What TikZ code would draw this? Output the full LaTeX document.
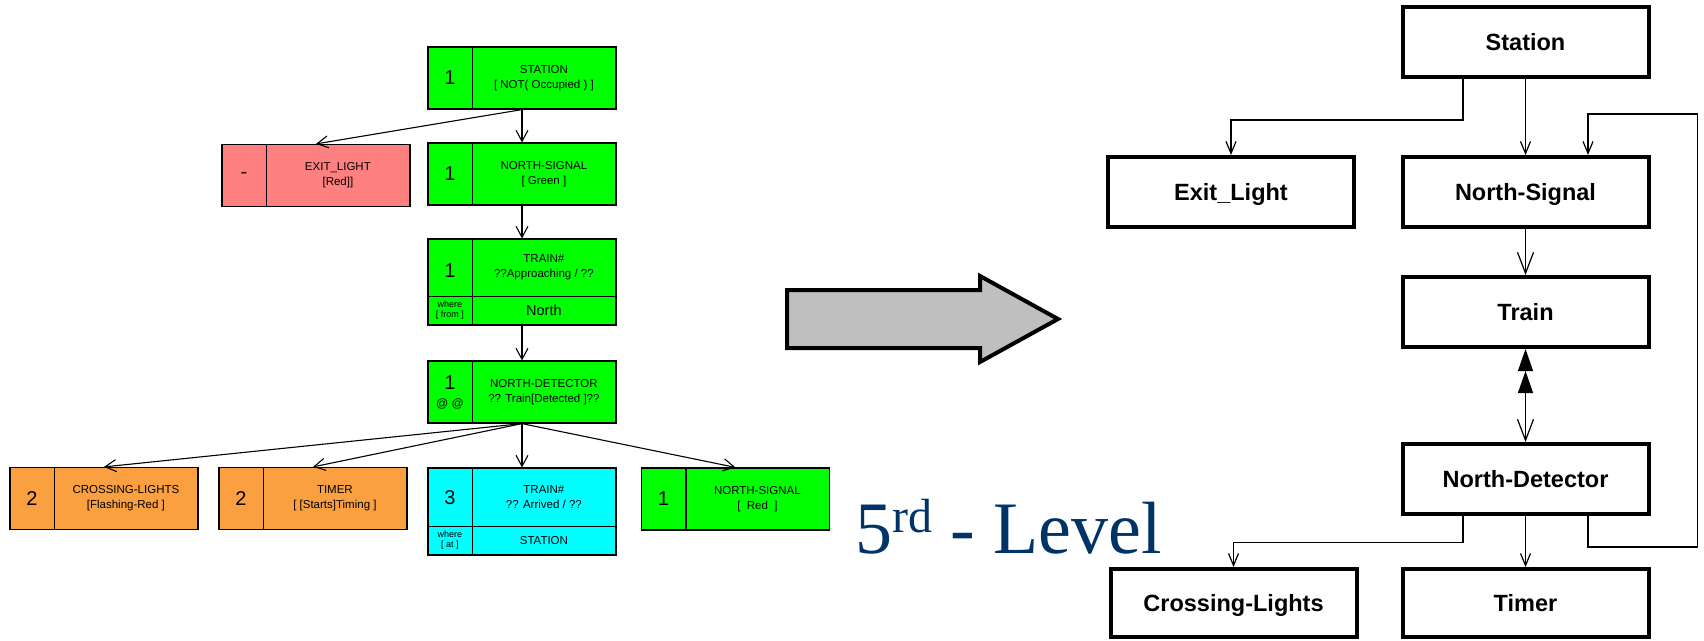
\documentclass[tikz,border=0pt]{standalone}
\usepackage{fontspec}
\setmainfont{Liberation Sans}
\newfontfamily\serifface{Liberation Serif}
\usetikzlibrary{arrows.meta,calc}

\definecolor{boxgreen}{RGB}{0,255,0}
\definecolor{boxpink}{RGB}{255,128,128}
\definecolor{boxorange}{RGB}{250,160,64}
\definecolor{boxcyan}{RGB}{0,255,255}
\definecolor{arrowgray}{RGB}{191,191,191}
\definecolor{levelblue}{RGB}{0,51,102}

\tikzset{
  lbox/.style={draw, line width=1.2pt, minimum width=188pt, minimum height=62pt, inner sep=0pt},
  lline/.style={line width=1.2pt},
  larr/.style={line width=1.1pt, -{Straight Barb[length=11pt,width=12pt,line width=1.1pt]}},
  numtext/.style={font=\fontsize{20}{22}\selectfont, inner sep=0pt},
  nametext/.style={font=\fontsize{11.5}{15}\selectfont, align=center, inner sep=0pt},
  tinytext/.style={font=\fontsize{9}{10.5}\selectfont, align=center, inner sep=0pt},
  rbox/.style={draw, line width=4pt, minimum width=246pt, minimum height=70pt, inner sep=0pt,
    text height=16.8pt, text depth=0pt, font=\bfseries\fontsize{23.5}{26}\selectfont},
  rarr/.style={line width=1.2pt, -{Straight Barb[length=12pt,width=10pt,line width=1.2pt]}},
  rarrbig/.style={line width=1.2pt, -{Straight Barb[length=21pt,width=16pt,line width=1.2pt]}},
}

% box with a number cell on the left and a two-line label on the right
\newcommand\flowbox[6]{%
  \node[lbox, fill=#4] (#1) at (#2,#3) {};
  \draw[lline] ([xshift=45pt]#1.north west) -- ([xshift=45pt]#1.south west);
  \node[numtext] (#1-n) at ([xshift=22.5pt]#1.west) {#5};
  \node[nametext] (#1-t) at ([xshift=116.5pt]#1.west) {#6};
}

\begin{document}
\begin{tikzpicture}[x=1pt, y=-1pt]
\useasboundingbox (0,0) rectangle (1704,640);

% ---------------- left: scenario tree ----------------
\flowbox{station}{522}{78}{boxgreen}{1}{STATION\\{}[ NOT( Occupied ) ]}
\flowbox{exitl}{316}{175.5}{boxpink}{-}{EXIT\_LIGHT\\{}[Red]]}
\flowbox{nsig}{522}{174}{boxgreen}{1}{NORTH-SIGNAL\\{}[ Green ]}

% train approaching from north
\node[lbox, fill=boxgreen, minimum height=86pt] (train) at (522,282) {};
\draw[lline] ([xshift=45pt]train.north west) -- ([xshift=45pt]train.south west);
\draw[lline] ([yshift=-58pt]train.north west) -- ([yshift=-58pt]train.north east);
\node[numtext] (train-n) at ([xshift=22.5pt,yshift=-32pt]train.north west) {1};
\node[nametext] (train-t) at ([xshift=116.5pt,yshift=-29pt]train.north west) {TRAIN\#\\??Approaching / ??};
\node[tinytext] (train-w) at ([xshift=22.5pt,yshift=-72pt]train.north west) {where\\{}[ from ]};
\node[font=\fontsize{14.5}{16}\selectfont, inner sep=0pt] (train-d) at ([xshift=116.5pt,yshift=-72pt]train.north west) {North};

% north detector
\node[lbox, fill=boxgreen] (ndet) at (522,392) {};
\draw[lline] ([xshift=45pt]ndet.north west) -- ([xshift=45pt]ndet.south west);
\node[numtext] (ndet-n) at ([xshift=22.5pt,yshift=-22pt]ndet.north west) {1};
\node[font=\fontsize{12}{13}\selectfont, inner sep=0pt] (ndet-a) at ([xshift=22.5pt,yshift=-44pt]ndet.north west) {@ @};
\node[nametext] (ndet-t) at ([xshift=116.5pt]ndet.west) {NORTH-DETECTOR\\?? Train[Detected ]??};

\flowbox{cross}{104}{498.5}{boxorange}{2}{CROSSING-LIGHTS\\{}[Flashing-Red ]}
\flowbox{timer}{313}{498.5}{boxorange}{2}{TIMER\\{}[ [Starts]Timing ]}
\flowbox{nsig2}{735.5}{499}{boxgreen}{1}{NORTH-SIGNAL\\{}[ \ Red \ ]}

% train arrived at station
\node[lbox, fill=boxcyan, minimum height=87pt] (arrived) at (522,511.5) {};
\draw[lline] ([xshift=45pt]arrived.north west) -- ([xshift=45pt]arrived.south west);
\draw[lline] ([yshift=-59pt]arrived.north west) -- ([yshift=-59pt]arrived.north east);
\node[numtext] (arrived-n) at ([xshift=22.5pt,yshift=-30pt]arrived.north west) {3};
\node[nametext] (arrived-t) at ([xshift=116.5pt,yshift=-30pt]arrived.north west) {TRAIN\#\\?? Arrived / ??};
\node[tinytext] (arrived-w) at ([xshift=22.5pt,yshift=-73pt]arrived.north west) {where\\{}[ at ]};
\node[nametext] (arrived-d) at ([xshift=116.5pt,yshift=-73pt]arrived.north west) {STATION};

% tree connectors
\draw[larr] (station.south) -- (exitl.north);
\draw[larr] (station.south) -- (nsig.north);
\draw[larr] (nsig.south) -- (train.north);
\draw[larr] (train.south) -- (ndet.north);
\draw[larr] (ndet.south) -- (cross.north);
\draw[larr] (ndet.south) -- (timer.north);
\draw[larr] (ndet.south) -- (arrived.north);
\draw[larr] (ndet.south) -- (nsig2.north);

% ---------------- middle: transformation arrow ----------------
\draw[line width=4pt, fill=arrowgray, miter limit=10]
  (787,290) -- (980,290) -- (980,276) -- (1058,319) -- (980,362) -- (980,348) -- (787,348) -- cycle;

\node[anchor=base west, inner sep=0pt, text=levelblue,
      font=\serifface\fontsize{74}{80}\selectfont] (level) at (855,553)
  {5\raisebox{21pt}{\fontsize{48}{50}\selectfont rd} - Level};

% ---------------- right: object hierarchy ----------------
\node[rbox] (rst) at (1525.5,42) {Station};
\node[rbox] (rel) at (1231,192) {Exit\_Light};
\node[rbox] (rns) at (1525.5,192) {North-Signal};
\node[rbox] (rtr) at (1525.5,312) {Train};
\node[rbox] (rnd) at (1525.5,479) {North-Detector};
\node[rbox, minimum height=68pt] (rcl) at (1233.5,603) {Crossing-Lights};
\node[rbox, minimum height=68pt] (rti) at (1525.5,603) {Timer};

\coordinate (loopcorner) at (1697.5,114);

\draw[rarr] ($(rst.south)+(-62.5,0)$) -- ++(0,41) -| (rel.north);
\draw[rarr] (rst.south) -- (rns.north);
\draw[rarrbig] (rns.south) -- (rtr.north);
\draw[line width=1.2pt,
      {Triangle[length=22pt,width=15pt,sep=0pt]Triangle[length=22pt,width=15pt]}-{Straight Barb[length=21pt,width=16pt,line width=1.2pt]}]
  (rtr.south) -- (rnd.north);
\draw[rarr] ($(rnd.south)+(-62.5,0)$) -- ++(0,26.5) -| (rcl.north);
\draw[rarr] (rnd.south) -- (rti.north);
\draw[rarr] ($(rnd.south)+(62.5,0)$) -- ++(0,31) -| (loopcorner) -| ($(rns.north)+(62.5,0)$);
\end{tikzpicture}
\end{document}
